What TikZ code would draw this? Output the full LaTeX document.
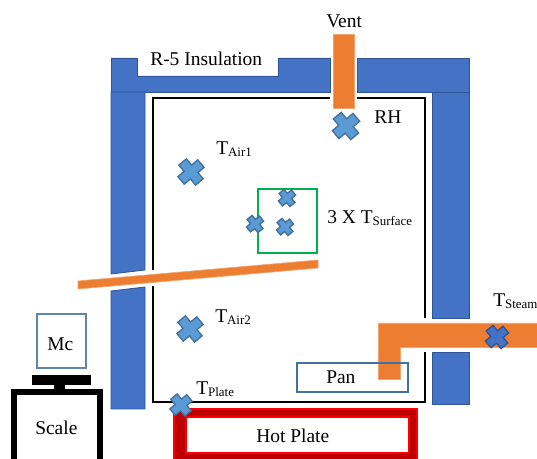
\documentclass[tikz,border=0pt]{standalone}
\usepackage{xcolor}
\usepackage{fontspec}
\setmainfont{Liberation Serif}
\definecolor{insblue}{HTML}{4472C4}
\definecolor{insedge}{HTML}{2F5597}
\definecolor{tubeorange}{HTML}{ED7D31}
\definecolor{crossblue}{HTML}{5B9BD5}
\definecolor{crossedge}{HTML}{41719C}
\definecolor{boxgreen}{HTML}{00B050}
\definecolor{platered}{HTML}{C00000}
\newcommand{\tsub}[1]{T\raisebox{-1.5pt}{\fontsize{9.7pt}{10pt}\selectfont #1}}
\tikzset{
    lbl/.style={anchor=base west, inner sep=0pt, font=\fontsize{14.6pt}{16pt}\selectfont},
    wall/.style={fill=insblue, draw=insedge, line width=0.6pt},
    tube/.style={fill=tubeorange, draw=tubeorange!70!white, line width=0.5pt},
    sensor/.pic={
        \path[fill=crossblue, draw=crossedge, line width=1pt]
            (-1,-0.38) -- (-0.38,-0.38) -- (-0.38,-1) -- (0.38,-1) -- (0.38,-0.38) -- (1,-0.38)
            -- (1,0.38) -- (0.38,0.38) -- (0.38,1) -- (-0.38,1) -- (-0.38,0.38) -- (-1,0.38) -- cycle;
    },
    steamsensor/.pic={
        \path[fill=insblue, draw=insedge, line width=1pt]
            (-1,-0.38) -- (-0.38,-0.38) -- (-0.38,-1) -- (0.38,-1) -- (0.38,-0.38) -- (1,-0.38)
            -- (1,0.38) -- (0.38,0.38) -- (0.38,1) -- (-0.38,1) -- (-0.38,0.38) -- (-1,0.38) -- cycle;
    }
}
\begin{document}
\begin{tikzpicture}[x=0.75pt, y=-0.75pt]
    \useasboundingbox (0, 0) rectangle (537, 459);
    \clip (0, 0) rectangle (537, 459);

    % insulation
    \draw[wall] (111, 58) -- (137, 58) -- (137, 76) -- (278, 76) -- (278, 58) -- (330, 58) -- (330, 92) -- (111, 92) -- cycle;
    \draw[wall] (357, 58) -- (469, 58) -- (469, 92) -- (357, 92) -- cycle;
    \draw[wall] (111, 92) -- (145, 92) -- (145, 270) -- (111, 274) -- cycle;
    \draw[wall] (111, 291) -- (145, 287) -- (145, 409) -- (111, 409) -- cycle;
    \draw[wall] (432, 92) rectangle (469, 318);
    \draw[wall] (432, 352) rectangle (469, 404);

    % chamber
    \draw[line width=1.6pt] (330, 98) -- (153, 98) -- (153, 270);
    \draw[line width=1.6pt] (357, 98) -- (425, 98) -- (425, 318);
    \draw[line width=1.6pt] (153, 286) -- (153, 402) -- (425, 402) -- (425, 352);

    % tubes
    \draw[tube] (333, 34) rectangle (354, 108);
    \draw[tube] (78, 281) -- (318, 260) -- (318, 268) -- (78, 289) -- cycle;
    \draw[tube] (537, 323) -- (378, 323) -- (378, 379) -- (400, 379) -- (400, 347) -- (537, 347);

    % boxes
    \draw[boxgreen, line width=1.5pt] (258, 189) rectangle (317, 253);
    \draw[crossedge, line width=1.5pt] (297, 363) rectangle (408, 392);
    \draw[crossedge!85!white, line width=1.8pt] (37, 314) rectangle (86, 368);

    % hot plate
    \draw[red, fill=platered, even odd rule, line width=0.8pt] (174, 409) rectangle (417, 470) (186, 417) rectangle (409, 453);

    % scale
    \fill (32, 375) rectangle (91, 385);
    \fill (54, 385) rectangle (65, 390);
    \draw[line width=4pt] (14, 470) -- (14, 392) -- (100, 392) -- (100, 470);

    % sensors
    \pic[scale=13, rotate=40] at (191, 172) {sensor};
    \pic[scale=13.5, rotate=40] at (346, 126) {sensor};
    \pic[scale=8.5, rotate=40] at (287, 198) {sensor};
    \pic[scale=8.5, rotate=40] at (285, 227) {sensor};
    \pic[scale=8.5, rotate=40] at (255, 224) {sensor};
    \pic[scale=13, rotate=40] at (190, 329) {sensor};
    \pic[scale=11, rotate=40] at (181, 405) {sensor};
    \pic[scale=11.5, rotate=40] at (497, 337) {steamsensor};

    % labels
    \node[lbl] at (326, 28) (vent) {Vent};
    \node[lbl] at (150, 66) (insulation) {R-5 Insulation};
    \node[lbl] at (374, 124) (rh) {RH};
    \node[lbl] at (216, 155) (tair1) {\tsub{Air1}};
    \node[lbl] at (327, 224) (tsurface) {3 X \tsub{Surface}};
    \node[lbl] at (215, 323) (tair2) {\tsub{Air2}};
    \node[lbl] at (196, 395) (tplate) {\tsub{Plate}};
    \node[lbl] at (493, 307) (tsteam) {\tsub{Steam}};
    \node[lbl] at (47, 351) (mc) {Mc};
    \node[lbl] at (35, 435) (scale) {Scale};
    \node[lbl] at (326, 384) (pan) {Pan};
    \node[lbl] at (256, 443) (hotplate) {Hot Plate};
\end{tikzpicture}
\end{document}
